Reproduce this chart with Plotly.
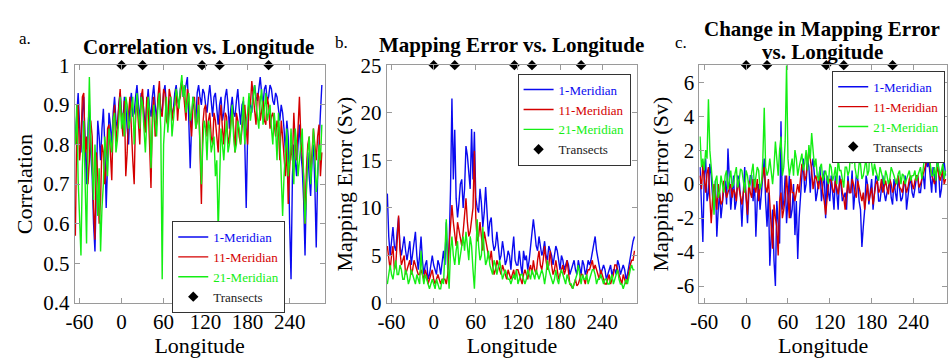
import plotly.graph_objects as go

# Sampling longitudes (degrees): main samples and the samples in between
LON_MAIN = list(range(-66, 287, 4))
LON_MID = list(range(-64, 285, 4))

# Transect locations (degrees longitude)
TRANSECTS = [0, 30, 115, 140, 210]

SERIES_NAMES = ["1-Meridian", "11-Meridian", "21-Meridian"]
COLORS = ["#0a0af0", "#d40000", "#14ee14"]

# ---- Panel a: correlation ----
corr_1_main = [0.82, 0.93, 0.78, 0.92, 0.70, 0.90, 0.72, 0.53, 0.86, 0.76,
               0.89, 0.64, 0.88, 0.80, 0.92, 0.84, 0.93, 0.86, 0.90, 0.80,
               0.93, 0.88, 0.95, 0.86, 0.92, 0.84, 0.94, 0.87, 0.95, 0.86,
               0.93, 0.88, 0.95, 0.85, 0.92, 0.89, 0.95, 0.90, 0.96, 0.93,
               0.97, 0.74, 0.92, 0.86, 0.95, 0.90, 0.93, 0.88, 0.95, 0.87,
               0.93, 0.85, 0.92, 0.88, 0.94, 0.84, 0.92, 0.87, 0.94, 0.85,
               0.91, 0.64, 0.92, 0.88, 0.95, 0.91, 0.97, 0.90, 0.95, 0.92,
               0.94, 0.90, 0.92, 0.86, 0.88, 0.78, 0.82, 0.46, 0.80, 0.72,
               0.85, 0.74, 0.52, 0.78, 0.67, 0.80, 0.54, 0.82, 0.95]
corr_1_mid = [0.88, 0.85, 0.88, 0.80, 0.84, 0.78, 0.60, 0.70, 0.82, 0.84,
              0.80, 0.75, 0.85, 0.88, 0.86, 0.90, 0.88, 0.92, 0.84, 0.90,
              0.87, 0.92, 0.90, 0.93, 0.88, 0.90, 0.89, 0.92, 0.90, 0.91,
              0.89, 0.93, 0.90, 0.90, 0.87, 0.93, 0.91, 0.94, 0.92, 0.95,
              0.86, 0.85, 0.89, 0.93, 0.92, 0.94, 0.90, 0.92, 0.91, 0.92,
              0.89, 0.90, 0.86, 0.92, 0.90, 0.89, 0.88, 0.91, 0.89, 0.90,
              0.80, 0.82, 0.90, 0.93, 0.92, 0.94, 0.93, 0.94, 0.91, 0.95,
              0.91, 0.93, 0.89, 0.90, 0.84, 0.86, 0.60, 0.72, 0.76, 0.80,
              0.78, 0.66, 0.70, 0.72, 0.76, 0.70, 0.72, 0.88]

corr_11_main = [0.57, 0.90, 0.80, 0.93, 0.82, 0.76, 0.82, 0.56, 0.72, 0.66,
                0.78, 0.74, 0.85, 0.71, 0.90, 0.84, 0.94, 0.82, 0.72, 0.88,
                0.83, 0.70, 0.91, 0.80, 0.94, 0.83, 0.90, 0.69, 0.92, 0.85,
                0.96, 0.87, 0.93, 0.85, 0.92, 0.89, 0.94, 0.91, 0.96, 0.90,
                0.94, 0.86, 0.90, 0.84, 0.92, 0.65, 0.89, 0.82, 0.88, 0.80,
                0.86, 0.78, 0.90, 0.80, 0.87, 0.82, 0.89, 0.78, 0.86, 0.80,
                0.88, 0.84, 0.91, 0.96, 0.88, 0.93, 0.86, 0.91, 0.85, 0.90,
                0.87, 0.84, 0.86, 0.76, 0.82, 0.72, 0.65, 0.80, 0.88, 0.76,
                0.92, 0.78, 0.60, 0.80, 0.72, 0.84, 0.76, 0.85, 0.78]
corr_11_mid = [0.84, 0.76, 0.92, 0.78, 0.70, 0.86, 0.64, 0.78, 0.60, 0.80,
               0.70, 0.84, 0.76, 0.86, 0.80, 0.88, 0.86, 0.91, 0.78, 0.92,
               0.76, 0.88, 0.84, 0.92, 0.86, 0.92, 0.80, 0.88, 0.82, 0.92,
               0.88, 0.94, 0.86, 0.94, 0.86, 0.90, 0.86, 0.92, 0.94, 0.86,
               0.92, 0.82, 0.92, 0.86, 0.78, 0.85, 0.90, 0.86, 0.82, 0.88,
               0.82, 0.86, 0.84, 0.88, 0.80, 0.86, 0.84, 0.88, 0.82, 0.84,
               0.90, 0.80, 0.90, 0.92, 0.85, 0.92, 0.89, 0.86, 0.92, 0.84,
               0.88, 0.82, 0.84, 0.86, 0.78, 0.80, 0.74, 0.76, 0.80, 0.84,
               0.82, 0.72, 0.74, 0.82, 0.78, 0.80, 0.82, 0.72]

corr_21_main = [0.80, 0.71, 0.52, 0.86, 0.55, 0.97, 0.72, 0.80, 0.62, 0.53,
                0.70, 0.78, 0.84, 0.78, 0.88, 0.81, 0.92, 0.88, 0.92, 0.84,
                0.90, 0.80, 0.93, 0.84, 0.90, 0.78, 0.92, 0.74, 0.90, 0.82,
                0.93, 0.46, 0.88, 0.83, 0.92, 0.86, 0.94, 0.89, 0.975, 0.95,
                0.91, 0.86, 0.92, 0.84, 0.90, 0.70, 0.86, 0.76, 0.84, 0.80,
                0.72, 0.58, 0.84, 0.76, 0.86, 0.80, 0.90, 0.78, 0.86, 0.80,
                0.92, 0.86, 0.93, 0.89, 0.95, 0.87, 0.91, 0.85, 0.93, 0.88,
                0.84, 0.88, 0.76, 0.82, 0.62, 0.78, 0.72, 0.84, 0.70, 0.80,
                0.76, 0.84, 0.60, 0.78, 0.70, 0.84, 0.68, 0.80, 0.85]
corr_21_mid = [0.90, 0.62, 0.74, 0.70, 0.80, 0.82, 0.66, 0.70, 0.74, 0.64,
               0.82, 0.72, 0.80, 0.86, 0.78, 0.86, 0.84, 0.82, 0.90, 0.86,
               0.92, 0.86, 0.88, 0.92, 0.84, 0.86, 0.88, 0.84, 0.86, 0.90,
               0.84, 0.80, 0.92, 0.88, 0.82, 0.90, 0.92, 0.94, 0.92, 0.88,
               0.93, 0.88, 0.90, 0.86, 0.82, 0.80, 0.84, 0.86, 0.78, 0.82,
               0.76, 0.70, 0.80, 0.82, 0.78, 0.84, 0.82, 0.80, 0.84, 0.86,
               0.80, 0.88, 0.86, 0.92, 0.90, 0.84, 0.94, 0.90, 0.86, 0.90,
               0.80, 0.84, 0.88, 0.74, 0.72, 0.84, 0.76, 0.78, 0.84, 0.72,
               0.80, 0.72, 0.68, 0.82, 0.76, 0.78, 0.72, 0.76]

# ---- Panel b: mapping error (Sv) ----
err_1_main = [11.5, 5.0, 8.0, 5.5, 9.0, 5.0, 7.0, 4.5, 6.5, 5.0,
              7.5, 3.5, 7.0, 3.0, 4.5, 3.0, 5.0, 3.5, 4.5, 3.0,
              5.5, 8.5, 6.0, 21.5, 18.2, 9.0, 12.5, 10.0, 16.5, 14.0,
              18.3, 18.0, 10.0, 12.0, 8.0, 12.2, 7.0, 9.0, 5.5, 7.5,
              4.5, 6.5, 4.0, 5.5, 3.5, 7.0, 4.0, 5.5, 3.0, 4.5,
              3.5, 6.0, 8.8, 6.0, 7.0, 5.0, 6.5, 4.5, 5.5, 4.0,
              6.0, 4.5, 5.0, 3.5, 4.5, 3.0, 4.0, 3.5, 4.5, 3.0,
              4.0, 3.5, 4.0, 5.5, 7.0, 4.5, 3.0, 4.0, 2.5, 3.5,
              2.8, 3.5, 4.5, 3.0, 4.0, 2.5, 4.0, 6.0, 7.0]
err_1_mid = [7.0, 6.5, 6.0, 7.5, 6.0, 6.0, 5.5, 5.5, 4.0, 6.0,
             5.0, 5.0, 4.5, 4.0, 2.5, 4.0, 4.0, 3.0, 4.0, 4.0,
             4.0, 3.5, 12.0, 13.0, 11.0, 10.5, 13.0, 12.0, 15.5, 12.0,
             13.0, 11.0, 9.5, 10.5, 9.5, 9.0, 8.5, 6.5, 6.0, 6.0,
             5.0, 5.5, 4.5, 5.0, 5.5, 4.5, 4.0, 4.0, 5.5, 5.0,
             4.5, 7.0, 7.5, 5.5, 6.0, 5.5, 5.0, 6.0, 5.0, 5.0,
             5.5, 3.5, 4.5, 4.0, 4.0, 3.5, 4.5, 3.0, 3.5, 4.5,
             3.0, 4.5, 4.5, 6.0, 5.5, 4.0, 3.5, 3.5, 3.0, 4.0,
             3.5, 3.0, 4.0, 3.5, 3.5, 3.0, 5.0, 6.5]

err_11_main = [6.0, 3.5, 6.0, 4.0, 9.2, 4.0, 5.0, 3.5, 4.5, 3.5,
               4.0, 3.0, 3.5, 2.5, 3.0, 2.5, 3.5, 2.0, 3.0, 2.0,
               2.5, 2.0, 6.0, 10.3, 7.0, 8.5, 6.5, 7.5, 11.0, 7.0,
               9.0, 16.0, 6.5, 8.5, 5.5, 6.5, 5.0, 5.5, 3.0, 4.5,
               3.5, 4.0, 3.0, 3.5, 2.5, 3.5, 3.5, 3.0, 2.0, 3.5,
               2.5, 4.0, 4.5, 3.0, 5.5, 3.5, 6.0, 3.5, 5.5, 3.0,
               4.5, 2.5, 3.5, 3.0, 4.5, 2.0, 1.5, 2.5, 2.0, 3.0,
               2.5, 3.0, 3.5, 4.5, 4.0, 3.0, 3.5, 2.5, 2.0, 3.0,
               2.5, 4.0, 3.5, 2.5, 3.0, 2.0, 3.5, 4.5, 5.5]
err_11_mid = [4.5, 5.0, 3.5, 6.5, 5.5, 4.5, 3.0, 4.0, 3.0, 4.5,
              3.5, 3.0, 3.0, 3.5, 2.0, 3.0, 2.5, 2.5, 2.5, 2.5,
              2.5, 3.0, 8.0, 8.5, 6.0, 7.5, 6.0, 9.0, 8.5, 7.5,
              10.0, 9.0, 7.0, 6.5, 7.5, 6.0, 4.5, 4.0, 3.5, 4.0,
              3.0, 3.5, 2.5, 3.0, 3.0, 2.5, 3.5, 2.5, 3.0, 3.0,
              3.5, 3.0, 3.5, 4.5, 4.0, 4.5, 4.5, 4.0, 4.0, 3.5,
              3.5, 3.0, 4.0, 3.5, 3.0, 1.8, 2.0, 1.8, 2.5, 3.0,
              2.0, 3.5, 4.0, 3.5, 3.5, 2.5, 3.0, 2.0, 2.5, 2.0,
              3.0, 4.0, 3.0, 2.0, 2.5, 2.5, 4.0, 4.5]

err_21_main = [2.0, 4.0, 2.5, 4.5, 3.0, 3.5, 2.5, 3.0, 2.5, 3.0,
               2.0, 2.5, 5.5, 2.0, 2.5, 1.5, 2.5, 1.5, 2.0, 1.5,
               2.0, 8.8, 1.5, 7.0, 4.0, 6.5, 5.0, 7.0, 7.5, 4.5,
               6.0, 1.5, 8.8, 4.5, 8.0, 4.0, 5.5, 3.5, 4.5, 3.0,
               4.5, 2.5, 3.5, 2.5, 2.0, 3.0, 3.5, 2.5, 3.0, 2.0,
               3.5, 2.5, 3.0, 3.5, 2.5, 3.5, 2.0, 4.5, 3.0, 2.0,
               3.5, 2.0, 3.5, 2.5, 3.0, 2.0, 1.5, 2.5, 4.0, 2.0,
               2.5, 3.0, 2.5, 3.5, 3.0, 2.5, 3.0, 2.0, 2.5, 2.0,
               3.0, 2.5, 3.5, 2.0, 1.5, 2.5, 3.0, 4.0, 3.5]
err_21_mid = [3.0, 3.0, 3.5, 3.0, 4.0, 2.5, 3.5, 2.0, 3.5, 2.5,
              3.0, 2.0, 3.0, 3.0, 2.0, 2.0, 2.0, 2.5, 1.5, 2.5,
              5.0, 4.0, 5.5, 5.0, 5.5, 4.0, 6.0, 5.5, 6.0, 7.0,
              3.5, 5.0, 6.0, 5.0, 5.5, 4.5, 4.0, 3.0, 4.0, 4.0,
              3.5, 3.0, 3.0, 2.5, 2.5, 2.5, 2.0, 3.0, 2.5, 2.5,
              3.0, 3.5, 2.5, 3.0, 3.0, 3.0, 3.0, 3.5, 2.5, 2.5,
              2.5, 3.0, 3.0, 2.0, 2.5, 2.0, 2.0, 3.0, 3.0, 3.0,
              2.5, 2.0, 3.0, 3.5, 2.0, 2.5, 2.5, 2.5, 2.0, 2.5,
              2.0, 3.0, 2.5, 2.0, 2.0, 2.0, 3.5, 3.5]

# ---- Panel c: change in mapping error (Sv) ----
dchg_1_main = [1.0, -3.4, 1.5, -0.5, 0.5, -1.5, -3.1, -0.5, -1.0, 0.2,
               2.1, -1.5, 0.5, -1.0, 0.3, -2.5, 1.0, -2.3, 0.5, -1.0,
               -3.1, 0.0, -0.5, 1.5, -2.5, -4.8, -1.5, -6.0, -2.0, 3.7,
               -1.0, -2.3, 0.5, -1.5, -3.0, -4.4, -0.5, 1.5, 0.0, 1.0,
               1.0, 0.5, -0.5, 1.0, 0.0, -2.0, -0.5, 0.5, -1.5, -0.5,
               0.5, -1.0, -0.5, 0.5, -0.5, -1.5, 0.5, -1.0, -3.7, -1.5,
               0.0, -0.5, -1.5, 0.5, -1.0, 0.0, -0.5, -0.5, 0.3, -1.2,
               -0.5, 0.5, -1.0, 0.0, -1.5, 0.0, -0.5, -0.3, 0.5, -0.5,
               0.5, 1.6, 1.3, -0.5, 0.5, 2.0, -0.8, 1.0, 0.5]
dchg_1_mid = [-1.0, 0.5, -1.0, 1.2, -0.8, 0.2, -1.5, -2.0, -0.3, -1.2,
              0.0, -0.5, -1.5, 0.5, -0.8, -0.5, -0.8, -0.5, 0.5, 0.3,
              -1.0, -1.5, 0.5, -1.0, -0.5, -3.0, -4.5, -1.0, -3.5, -1.5,
              0.5, -1.0, -2.0, 0.0, -1.0, -2.0, 0.5, -0.5, 1.5, -0.5,
              1.5, -1.0, 0.5, -1.0, 0.8, 0.5, -1.0, -0.5, 0.5, -1.5,
              0.0, -0.8, -1.5, -0.5, 0.8, -0.5, 0.3, -1.5, -2.5, 0.5,
              -1.2, 0.3, -0.5, 0.3, -1.0, 0.5, -1.0, -0.2, -0.8, 0.3,
              -1.0, -0.3, -0.8, 0.5, -0.5, 0.3, -0.8, 0.3, -0.5, 0.3,
              -0.3, 1.0, 0.5, 1.0, -0.5, 0.8, -0.3, 1.3]

dchg_11_main = [0.5, 1.2, -0.5, 1.0, -2.3, 0.0, -1.5, -0.5, -1.0, -0.3,
                -0.5, 0.0, -0.3, -1.0, -0.2, -1.2, 0.0, -1.8, -0.5, 0.3,
                -0.5, -1.0, 0.0, 1.0, -0.5, -1.5, -3.8, -2.0, -4.2, -0.5,
                -1.5, 0.5, -2.0, -0.5, -1.0, 0.0, 0.5, 1.0, 0.5, 2.0,
                0.8, 0.3, 0.0, 0.5, -0.5, -1.8, 0.0, 0.2, -0.5, -0.2,
                0.0, -0.5, -1.5, 0.2, -0.5, 0.0, -0.8, -0.3, -1.0, -1.5,
                0.0, -0.5, -1.2, 0.0, -0.5, 0.3, -0.2, -0.3, 0.3, -0.5,
                0.0, 0.5, -0.3, 0.2, -0.5, 0.3, 0.0, 0.2, 0.5, 0.0,
                0.5, 1.2, 1.8, 0.5, 0.0, 1.0, 0.2, 0.8, 0.3]
dchg_11_mid = [-0.3, 0.2, 0.6, -0.8, -0.8, -0.7, 0.0, -1.2, 0.2, -0.8,
               -0.2, -0.8, -0.5, 0.2, -0.6, -0.5, -0.7, 0.2, -0.8, -0.2,
               0.3, -0.2, 0.5, -0.2, 0.3, -2.5, -1.2, -2.5, -1.0, -2.0,
               -0.8, -1.0, 0.3, -0.5, -0.5, -0.5, 1.2, 0.2, 1.3, 1.5,
               -0.3, 0.5, -0.3, 0.3, -1.0, -0.8, 0.3, -0.3, 0.2, -0.6,
               0.3, -0.8, -0.5, -0.5, 0.3, -0.5, 0.2, -0.6, -0.5, -0.5,
               -1.0, -0.2, -0.5, 0.2, -0.3, -0.5, 0.2, -0.6, 0.0, -0.3,
               0.2, -0.2, -0.5, 0.0, -0.2, 0.5, -0.3, 0.5, -0.2, 0.3,
               0.8, 1.5, 1.0, 0.3, 0.5, 0.6, 0.5, 0.0]

dchg_21_main = [2.8, 1.5, 2.0, 5.0, 1.0, -1.8, 0.5, -0.5, 0.0, 0.5,
                -0.3, 0.8, 0.0, 1.0, 0.2, 0.8, -0.5, 0.5, 0.0, 1.2,
                0.3, 0.8, 0.0, 4.5, 0.5, 1.5, 0.0, 2.5, 0.5, 2.8,
                1.0, 7.0, 0.5, 1.5, 2.0, 0.5, 1.5, 0.8, 2.0, 2.3,
                3.0, 1.0, 0.5, 1.0, 0.2, 0.8, 0.0, 1.0, 0.5, 0.0,
                0.8, 0.3, 1.0, 0.5, 2.0, 2.8, 0.5, 1.2, 0.3, 1.0,
                0.5, 2.8, 0.5, 0.8, 0.2, 0.6, 0.0, 0.5, 0.3, 0.8,
                0.2, 0.6, 0.0, 0.5, 0.3, 0.8, 0.5, 0.8, 0.5, 1.0,
                1.0, 2.3, 2.0, 0.5, 1.0, 1.5, 0.5, 1.2, 0.8]
dchg_21_mid = [1.0, 0.8, 1.5, 2.0, 0.0, 0.2, -0.8, 0.5, -0.5, 0.8,
               0.3, -0.2, 0.6, -0.2, 0.9, 0.2, 0.8, -0.2, 0.7, -0.2,
               1.0, -0.3, 1.5, 1.0, 0.8, 0.6, 1.0, 1.5, 2.0, 0.5,
               2.5, 1.5, 1.0, 0.5, 1.5, 1.0, 1.8, 1.2, 0.8, 1.5,
               1.8, 1.5, 0.2, 1.2, 0.5, 0.3, 1.2, 0.2, 1.0, 1.5,
               0.8, -0.2, 1.0, 0.8, 1.2, 1.0, 0.3, 1.2, 0.5, 1.5,
               0.8, 1.2, 1.2, 0.5, 1.0, 0.3, 0.8, 0.0, 1.0, 0.5,
               0.0, 0.8, 0.6, 0.0, 0.6, 0.2, 0.5, 0.2, 0.8, 0.3,
               1.5, 1.8, 1.2, 0.5, 0.2, 1.0, 0.8, 0.3]

X_TICKS = [-60, 0, 60, 120, 180, 240]
Y_TICKS_A = [0.4, 0.5, 0.6, 0.7, 0.8, 0.9, 1.0]
Y_TICK_TEXT_A = ["0.4", "0.5", "0.6", "0.7", "0.8", "0.9", "1"]
Y_TICKS_B = [0, 5, 10, 15, 20, 25]
Y_TICKS_C = [-6, -4, -2, 0, 2, 4, 6]

FONT = "Liberation Serif"
FRAME = "#9a9a9a"
TICK_SIZE = 21
AXIS_TITLE_SIZE = 22


def merge(main_vals, mid_vals):
    """Combine the two sample sets into one series ordered by longitude."""
    pts = sorted(list(zip(LON_MAIN, main_vals)) + list(zip(LON_MID, mid_vals)))
    return [p[0] for p in pts], [p[1] for p in pts]


panels = [
    dict(x="x", y="y", legend="legend", top=1.0,
         data=[(corr_1_main, corr_1_mid), (corr_11_main, corr_11_mid),
               (corr_21_main, corr_21_mid)]),
    dict(x="x2", y="y2", legend="legend2", top=25,
         data=[(err_1_main, err_1_mid), (err_11_main, err_11_mid),
               (err_21_main, err_21_mid)]),
    dict(x="x3", y="y3", legend="legend3", top=7,
         data=[(dchg_1_main, dchg_1_mid), (dchg_11_main, dchg_11_mid),
               (dchg_21_main, dchg_21_mid)]),
]

fig = go.Figure()
for p in panels:
    for name, color, (main_vals, mid_vals) in zip(SERIES_NAMES, COLORS, p["data"]):
        xs, ys = merge(main_vals, mid_vals)
        fig.add_trace(go.Scatter(
            x=xs, y=ys, mode="lines", xaxis=p["x"], yaxis=p["y"],
            line=dict(color=color, width=1.4),
            name=f'<span style="color:{color}">{name}</span>',
            legend=p["legend"], hoverinfo="skip"))
    fig.add_trace(go.Scatter(
        x=TRANSECTS, y=[p["top"]] * len(TRANSECTS), mode="markers",
        xaxis=p["x"], yaxis=p["y"], cliponaxis=False,
        marker=dict(symbol="diamond", size=8, color="black"),
        name="Transects", legend=p["legend"], hoverinfo="skip"))


def tick_label(v):
    # plain hyphen-minus for negative tick values
    return str(v)


def axis_title(text, standoff):
    return dict(text=text, standoff=standoff,
                font=dict(family=FONT, size=AXIS_TITLE_SIZE, color="black"))


axis_common = dict(
    ticks="inside", ticklen=5, tickcolor=FRAME, showline=True,
    linecolor=FRAME, linewidth=1, mirror="ticks", showgrid=False,
    zeroline=False, tickfont=dict(family=FONT, size=TICK_SIZE, color="black"),
)
xaxis_common = dict(
    tickvals=X_TICKS, ticktext=[tick_label(v) for v in X_TICKS],
    title=axis_title("Longitude", 2), **axis_common,
)

ydom = [0.1285, 0.8408]
fig.update_layout(
    width=948, height=358, margin=dict(l=0, r=0, t=0, b=0),
    paper_bgcolor="white", plot_bgcolor="white", showlegend=True,
    xaxis=dict(domain=[0.0700, 0.3365], range=[-67, 290], anchor="y",
               **xaxis_common),
    xaxis2=dict(domain=[0.4026, 0.6698], range=[-67, 290], anchor="y2",
                **xaxis_common),
    xaxis3=dict(domain=[0.7360, 1.0], range=[-67, 288], anchor="y3",
                **xaxis_common),
    yaxis=dict(domain=ydom, range=[0.4, 1.0], anchor="x",
               tickvals=Y_TICKS_A, ticktext=Y_TICK_TEXT_A,
               title=axis_title("Correlation", 4), **axis_common),
    yaxis2=dict(domain=ydom, range=[0, 25], anchor="x2",
                tickvals=Y_TICKS_B, ticktext=[str(v) for v in Y_TICKS_B],
                title=axis_title("Mapping Error (Sv)", 1), **axis_common),
    yaxis3=dict(domain=ydom, range=[-7, 7], anchor="x3",
                tickvals=Y_TICKS_C, ticktext=[tick_label(v) for v in Y_TICKS_C],
                title=axis_title("Mapping Error (Sv)", 1), **axis_common),
)

legend_common = dict(
    bgcolor="white", bordercolor="#333333", borderwidth=1,
    font=dict(family=FONT, size=13, color="#222222"),
    xanchor="left", yanchor="top", tracegroupgap=0, itemwidth=30,
)
fig.update_layout(
    legend=dict(x=165 / 948, y=1 - 224 / 358, **legend_common),
    legend2=dict(x=514 / 948, y=1 - 66 / 358, **legend_common),
    legend3=dict(x=832 / 948, y=1 - 63 / 358, **legend_common),
)

title_font = dict(family=FONT, size=21, color="black")
label_font = dict(family=FONT, size=17, color="black")
annotations = [
    dict(text="<b>Correlation vs. Longitude</b>", x=192, y=38, font=title_font),
    dict(text="<b>Mapping Error vs. Longitude</b>", x=508, y=35, font=title_font),
    dict(text="<b>Change in Mapping Error</b>", x=822, y=18, font=title_font),
    dict(text="<b>vs. Longitude</b>", x=822, y=43, font=title_font),
    dict(text="a.", x=16, y=28, font=label_font),
    dict(text="b.", x=336, y=33, font=label_font),
    dict(text="c.", x=679, y=33, font=label_font),
]
for a in annotations:
    fig.add_annotation(
        text=a["text"], x=a["x"] / 948, y=1 - a["y"] / 358,
        xref="paper", yref="paper", xanchor="center", yanchor="middle",
        showarrow=False, font=a["font"])

fig.write_html("out.html")
